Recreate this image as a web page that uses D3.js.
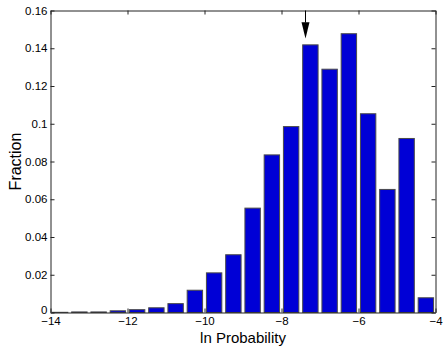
<!DOCTYPE html>
<html><head><meta charset="utf-8">
<script src="https://cdn.jsdelivr.net/npm/d3@7"></script>
<style>body{margin:0;background:#fff}svg{display:block}text{font-family:"Liberation Sans",Arial,sans-serif}</style>
</head><body><svg id="c" width="443" height="348"></svg>
<script>
const binCenters = [-13.75,-13.25,-12.75,-12.25,-11.75,-11.25,-10.75,-10.25,-9.75,-9.25,-8.75,-8.25,-7.75,-7.25,-6.75,-6.25,-5.75,-5.25,-4.75,-4.25];
const fractions = [0.0001,0.0003,0.0003,0.0009,0.0015,0.0025,0.0047,0.0118,0.021,0.0306,0.0553,0.0835,0.0985,0.1418,0.1289,0.1477,0.1053,0.0652,0.0922,0.0078];
const xTicks = [-14,-12,-10,-8,-6,-4];
const yTicks = [0,0.02,0.04,0.06,0.08,0.1,0.12,0.14,0.16];
const arrowX = -7.4;
const binWidth = 0.5;

const svg = d3.select("#c");
const L=50.5, R=435.5, T=10.5, B=312.5;
const x = d3.scaleLinear().domain([-14,-4]).range([L,R]);
const y = d3.scaleLinear().domain([0,0.16]).range([B,T]);

const bw = (x(binWidth)-x(0))*0.8;
svg.append("g").selectAll("rect").data(binCenters).join("rect")
  .attr("x",(d)=>x(d)-bw/2).attr("width",bw)
  .attr("y",(d,i)=>y(fractions[i])).attr("height",(d,i)=>B-y(fractions[i]))
  .attr("fill","#0000d6").attr("stroke","#4a4a4a").attr("stroke-width",1);

const fmtX = d=> (d<0?"\u2212":"")+Math.abs(d);
const fmtY = d=> d===0?"0":String(+d.toFixed(2));

const ax = svg.append("g").attr("transform",`translate(0,${B})`)
  .call(d3.axisBottom(x).tickValues(xTicks).tickFormat(fmtX).tickSizeInner(-4).tickSizeOuter(0).tickPadding(4));
const ay = svg.append("g").attr("transform",`translate(${L},0)`)
  .call(d3.axisLeft(y).tickValues(yTicks).tickFormat(fmtY).tickSizeInner(-4).tickSizeOuter(0).tickPadding(3));
const axt = svg.append("g").attr("transform",`translate(0,${T})`)
  .call(d3.axisTop(x).tickValues(xTicks).tickFormat("").tickSizeInner(-4).tickSizeOuter(0));
const ayr = svg.append("g").attr("transform",`translate(${R},0)`)
  .call(d3.axisRight(y).tickValues(yTicks).tickFormat("").tickSizeInner(-4).tickSizeOuter(0));
[ax,ay,axt,ayr].forEach(g=>{
  g.select(".domain").attr("stroke","#222");
  g.selectAll(".tick line").attr("stroke","#222");
  g.selectAll("text").attr("font-size",11.5).attr("fill","#000").attr("font-family","'Liberation Sans',Arial,sans-serif");
});
ax.selectAll("text").attr("dy","0.71em");
ay.selectAll("text").filter(d=>d===0).attr("dy","0.05em");

// arrow
const ax0 = Math.round(x(arrowX))+0.5;
svg.append("line").attr("x1",ax0).attr("x2",ax0).attr("y1",T).attr("y2",y(0.1536)).attr("stroke","#000").attr("stroke-width",1);
svg.append("path").attr("d",`M${ax0-4},${y(0.1538)} L${ax0+4},${y(0.1538)} L${ax0},${y(0.1452)} Z`).attr("fill","#000");

svg.append("text").attr("x",(L+R)/2).attr("y",343).attr("text-anchor","middle").attr("font-size",15).text("ln Probability");
svg.append("text").attr("transform",`translate(21,${(T+B)/2}) rotate(-90)`).attr("text-anchor","middle").attr("font-size",16).text("Fraction");
</script></body></html>
